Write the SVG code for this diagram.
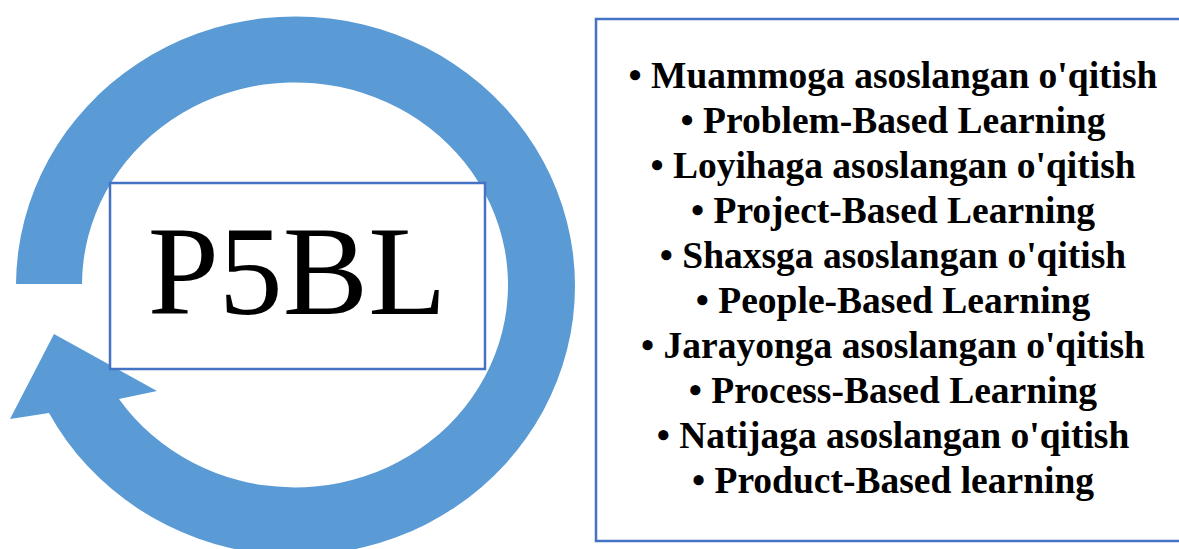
<svg xmlns="http://www.w3.org/2000/svg" width="1179" height="549" viewBox="0 0 1179 549">
<style>
.item{font-family:"Liberation Serif","Times New Roman",serif;font-weight:bold;font-size:37.5px;fill:#000;text-anchor:middle}
.box{fill:#fff;stroke:#4472C4;stroke-width:2.5}
</style>
<rect width="1179" height="549" fill="#fff"/>
<g id="cycle-arrow">
<path d="M 16 284 A 279.5 269.5 0 1 1 49 413 L 10 419 L 54 334 L 157 391 L 119 399 A 213 202.5 0 1 0 82 284 Z" fill="#5B9BD5"/>
</g>
<g id="center-node">
<rect class="box" x="110" y="183" width="375" height="186"/>
<text x="297" y="314" font-family="'Liberation Serif','Times New Roman',serif" font-size="128" text-anchor="middle" fill="#000">P5BL</text>
</g>
<g id="list-node">
<rect class="box" x="596" y="19" width="600" height="522"/>
<text class="item" x="893" y="88">• Muammoga asoslangan o'qitish</text>
<text class="item" x="893" y="133">• Problem-Based Learning</text>
<text class="item" x="893" y="178">• Loyihaga asoslangan o'qitish</text>
<text class="item" x="893" y="223">• Project-Based Learning</text>
<text class="item" x="893" y="268">• Shaxsga asoslangan o'qitish</text>
<text class="item" x="893" y="313">• People-Based Learning</text>
<text class="item" x="893" y="358">• Jarayonga asoslangan o'qitish</text>
<text class="item" x="893" y="403">• Process-Based Learning</text>
<text class="item" x="893" y="448">• Natijaga asoslangan o'qitish</text>
<text class="item" x="893" y="493">• Product-Based learning</text>
</g>
<g id="connectors"></g>
</svg>
